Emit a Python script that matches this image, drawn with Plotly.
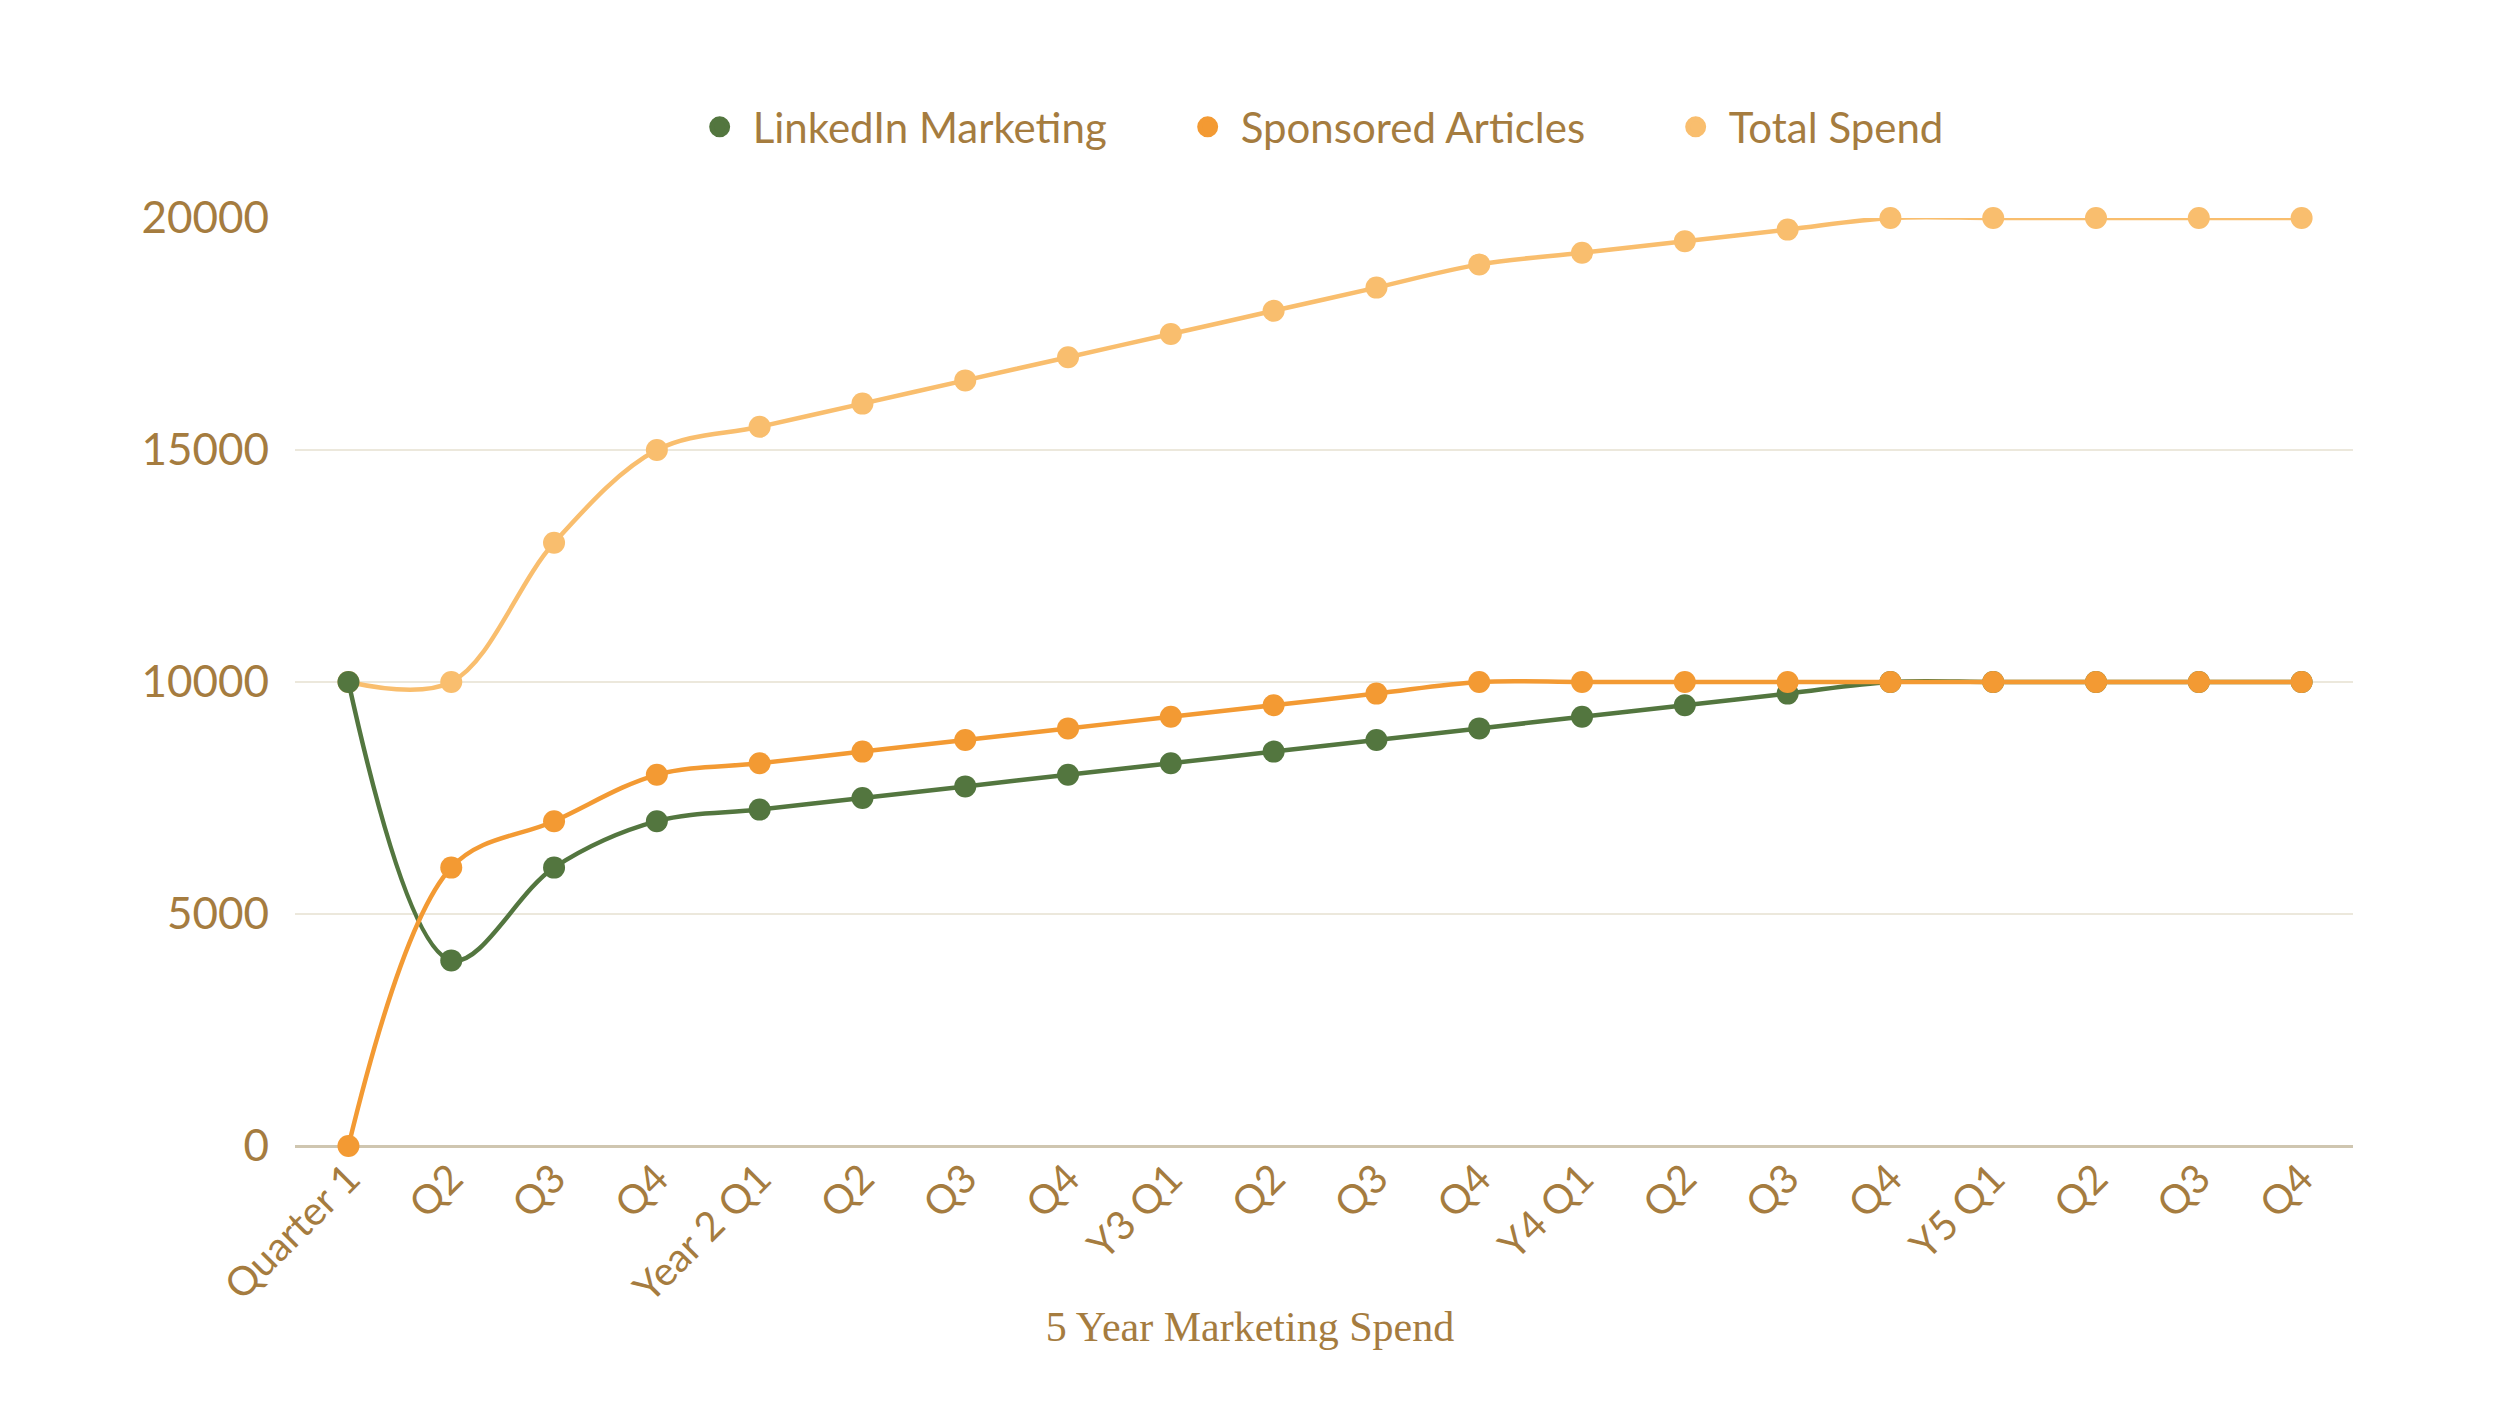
import plotly.graph_objects as go

labels = ["Quarter 1", "Q2", "Q3", "Q4", "Year 2 Q1", "Q2", "Q3", "Q4",
          "Y3 Q1", "Q2", "Q3", "Q4", "Y4 Q1", "Q2", "Q3", "Q4",
          "Y5 Q1", "Q2", "Q3", "Q4"]
linkedin = [10000, 4000, 6000, 7000, 7250, 7500, 7750, 8000, 8250, 8500,
            8750, 9000, 9250, 9500, 9750, 10000, 10000, 10000, 10000, 10000]
sponsored = [0, 6000, 7000, 8000, 8250, 8500, 8750, 9000, 9250, 9500,
             9750, 10000, 10000, 10000, 10000, 10000, 10000, 10000, 10000, 10000]
total = [10000, 10000, 13000, 15000, 15500, 16000, 16500, 17000, 17500, 18000,
         18500, 19000, 19250, 19500, 19750, 20000, 20000, 20000, 20000, 20000]
y_ticks = [0, 5000, 10000, 15000, 20000]

series = [("LinkedIn Marketing", linkedin, "#53763F"),
          ("Sponsored Articles", sponsored, "#F39A33"),
          ("Total Spend", total, "#F9BE6E")]

text_color = "#A57C3F"
font_family = "Lato, Open Sans, sans-serif"
xs = list(range(len(labels)))

fig = go.Figure()
# draw order: total first (bottom), then linkedin, then sponsored on top
for name, vals, col in [series[2], series[0], series[1]]:
    fig.add_trace(go.Scatter(
        x=xs, y=vals, mode="lines+markers", name=name, showlegend=False,
        line=dict(color=col, width=4.5, shape="spline", smoothing=1.0),
        marker=dict(color=col, size=22),
        cliponaxis=False,
    ))
for name, vals, col in series:
    fig.add_trace(go.Scatter(
        x=[None], y=[None], mode="markers", name=name,
        marker=dict(color=col, size=16, line=dict(color=col, width=5)),
    ))

fig.update_layout(
    width=2500, height=1406,
    margin=dict(l=295, r=147, t=218, b=260),
    paper_bgcolor="white", plot_bgcolor="white",
    font=dict(family=font_family, color=text_color, size=34),
    legend=dict(orientation="h", x=0.546, xanchor="center", y=1.098, yanchor="middle",
                font=dict(size=42, color=text_color), itemsizing="trace",
                itemwidth=56, entrywidth=417, entrywidthmode="pixels"),
    showlegend=True,
    title=dict(text="5 Year Marketing Spend", x=0.5, xanchor="center",
               xref="container", yref="container", y=0.057, yanchor="middle",
               font=dict(family="Liberation Serif, serif", size=42, color=text_color)),
)
fig.update_xaxes(
    range=[-0.52, len(labels) - 0.5],
    tickmode="array", tickvals=xs, ticktext=labels, tickangle=-45,
    showgrid=False, zeroline=False,
    showline=False, ticks="",
    tickfont=dict(size=40, color=text_color),
)
fig.update_yaxes(
    range=[0, 20000], tickmode="array", tickvals=y_ticks,
    ticktext=[str(v) for v in y_ticks],
    showgrid=True, gridcolor="#ECE8DC", gridwidth=2,
    zeroline=True, zerolinecolor="#CFC6B0", zerolinewidth=3,
    showline=False, ticks="", ticklabelstandoff=25,
    tickfont=dict(size=44, color=text_color),
)

fig.write_html("out.html")
